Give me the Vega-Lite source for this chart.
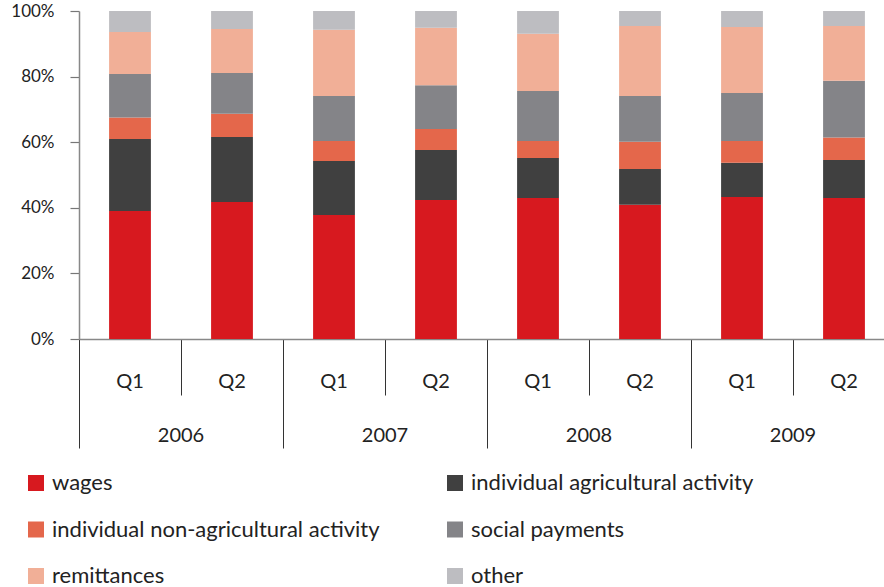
{
  "$schema": "https://vega.github.io/schema/vega-lite/v6.json",
  "width": 816,
  "height": 328,
  "autosize": {"type": "none"},
  "padding": {"left": 79, "top": 11, "right": 0, "bottom": 248},
  "config": {"font": "Lato", "view": {"stroke": null}},
  "data": {
    "values": [
      {"period": "2006 Q1", "category": "wages", "rank": 1, "value": 39.0},
      {"period": "2006 Q1", "category": "individual agricultural activity", "rank": 2, "value": 22.0},
      {"period": "2006 Q1", "category": "individual non-agricultural activity", "rank": 3, "value": 6.5},
      {"period": "2006 Q1", "category": "social payments", "rank": 4, "value": 13.3},
      {"period": "2006 Q1", "category": "remittances", "rank": 5, "value": 12.8},
      {"period": "2006 Q1", "category": "other", "rank": 6, "value": 6.4},
      {"period": "2006 Q2", "category": "wages", "rank": 1, "value": 41.8},
      {"period": "2006 Q2", "category": "individual agricultural activity", "rank": 2, "value": 19.8},
      {"period": "2006 Q2", "category": "individual non-agricultural activity", "rank": 3, "value": 7.1},
      {"period": "2006 Q2", "category": "social payments", "rank": 4, "value": 12.4},
      {"period": "2006 Q2", "category": "remittances", "rank": 5, "value": 13.4},
      {"period": "2006 Q2", "category": "other", "rank": 6, "value": 5.5},
      {"period": "2007 Q1", "category": "wages", "rank": 1, "value": 37.8},
      {"period": "2007 Q1", "category": "individual agricultural activity", "rank": 2, "value": 16.5},
      {"period": "2007 Q1", "category": "individual non-agricultural activity", "rank": 3, "value": 6.1},
      {"period": "2007 Q1", "category": "social payments", "rank": 4, "value": 13.7},
      {"period": "2007 Q1", "category": "remittances", "rank": 5, "value": 20.2},
      {"period": "2007 Q1", "category": "other", "rank": 6, "value": 5.7},
      {"period": "2007 Q2", "category": "wages", "rank": 1, "value": 42.4},
      {"period": "2007 Q2", "category": "individual agricultural activity", "rank": 2, "value": 15.2},
      {"period": "2007 Q2", "category": "individual non-agricultural activity", "rank": 3, "value": 6.4},
      {"period": "2007 Q2", "category": "social payments", "rank": 4, "value": 13.4},
      {"period": "2007 Q2", "category": "remittances", "rank": 5, "value": 17.5},
      {"period": "2007 Q2", "category": "other", "rank": 6, "value": 5.1},
      {"period": "2008 Q1", "category": "wages", "rank": 1, "value": 43.0},
      {"period": "2008 Q1", "category": "individual agricultural activity", "rank": 2, "value": 12.2},
      {"period": "2008 Q1", "category": "individual non-agricultural activity", "rank": 3, "value": 5.2},
      {"period": "2008 Q1", "category": "social payments", "rank": 4, "value": 15.2},
      {"period": "2008 Q1", "category": "remittances", "rank": 5, "value": 17.5},
      {"period": "2008 Q1", "category": "other", "rank": 6, "value": 6.9},
      {"period": "2008 Q2", "category": "wages", "rank": 1, "value": 40.9},
      {"period": "2008 Q2", "category": "individual agricultural activity", "rank": 2, "value": 10.9},
      {"period": "2008 Q2", "category": "individual non-agricultural activity", "rank": 3, "value": 8.3},
      {"period": "2008 Q2", "category": "social payments", "rank": 4, "value": 14.0},
      {"period": "2008 Q2", "category": "remittances", "rank": 5, "value": 21.3},
      {"period": "2008 Q2", "category": "other", "rank": 6, "value": 4.6},
      {"period": "2009 Q1", "category": "wages", "rank": 1, "value": 43.3},
      {"period": "2009 Q1", "category": "individual agricultural activity", "rank": 2, "value": 10.4},
      {"period": "2009 Q1", "category": "individual non-agricultural activity", "rank": 3, "value": 6.7},
      {"period": "2009 Q1", "category": "social payments", "rank": 4, "value": 14.6},
      {"period": "2009 Q1", "category": "remittances", "rank": 5, "value": 20.1},
      {"period": "2009 Q1", "category": "other", "rank": 6, "value": 4.9},
      {"period": "2009 Q2", "category": "wages", "rank": 1, "value": 43.0},
      {"period": "2009 Q2", "category": "individual agricultural activity", "rank": 2, "value": 11.6},
      {"period": "2009 Q2", "category": "individual non-agricultural activity", "rank": 3, "value": 6.8},
      {"period": "2009 Q2", "category": "social payments", "rank": 4, "value": 17.3},
      {"period": "2009 Q2", "category": "remittances", "rank": 5, "value": 16.7},
      {"period": "2009 Q2", "category": "other", "rank": 6, "value": 4.6}
    ]
  },
  "encoding": {
    "y": {
      "field": "value",
      "type": "quantitative",
      "stack": "zero",
      "scale": {"domain": [0, 100], "nice": false},
      "axis": {
        "title": null,
        "values": [0, 20, 40, 60, 80, 100],
        "labelExpr": "datum.value + '%'",
        "labelFontSize": 17,
        "labelColor": "#222222",
        "labelPadding": 16,
        "tickSize": 9,
        "tickColor": "#777777",
        "tickWidth": 1.2,
        "domainColor": "#888888",
        "domainWidth": 1.5,
        "grid": false
      }
    },
    "order": {"field": "rank", "type": "quantitative"}
  },
  "layer": [
    {
      "mark": {"type": "bar", "width": {"band": 0.41}},
      "encoding": {
        "x": {
          "field": "period",
          "type": "nominal",
          "sort": null,
          "scale": {"paddingInner": 0, "paddingOuter": 0},
          "axis": {
            "orient": "bottom",
            "title": null,
            "labels": false,
            "tickBand": "extent",
            "tickSize": {"condition": {"test": "!datum.value || datum.extra || indexof(datum.value, 'Q2') >= 0", "value": 109}, "value": 56},
            "tickColor": "#333333",
            "tickWidth": 1,
            "domainColor": "#888888",
            "domainWidth": 1.5
          }
        },
        "color": {
          "field": "category",
          "type": "nominal",
          "scale": {
            "domain": ["wages", "individual non-agricultural activity", "remittances", "individual agricultural activity", "social payments", "other"],
            "range": ["#D7191F", "#E4674B", "#F1AF97", "#404040", "#848488", "#BDBDC1"]
          },
          "legend": {
            "title": null,
            "orient": "none",
            "legendX": -54,
            "legendY": 461,
            "padding": 0,
            "columns": 2,
            "symbolType": "square",
            "symbolSize": 256,
            "symbolStrokeWidth": 0,
            "labelFontSize": 22,
            "labelColor": "#222222",
            "labelLimit": 500,
            "labelOffset": 5,
            "rowPadding": 24.5,
            "columnPadding": 64
          }
        }
      }
    },
    {
      "mark": {"type": "bar", "width": {"band": 0.41}, "opacity": 0},
      "encoding": {
        "x": {
          "field": "period",
          "type": "nominal",
          "sort": null,
          "axis": {
            "orient": "bottom",
            "title": null,
            "labelExpr": "slice(datum.value, 5)",
            "labelAngle": 0,
            "labelFontSize": 20,
            "labelColor": "#222222",
            "labelBaseline": "middle",
            "labelPadding": 42,
            "ticks": false,
            "tickSize": 0,
            "domain": false
          }
        }
      }
    },
    {
      "mark": {"type": "bar", "width": {"band": 0.41}, "opacity": 0},
      "encoding": {
        "x": {
          "field": "period",
          "type": "nominal",
          "sort": null,
          "axis": {
            "orient": "bottom",
            "title": null,
            "labelExpr": "indexof(datum.value, 'Q1') >= 0 ? slice(datum.value, 0, 4) : ''",
            "labelAngle": 0,
            "labelOffset": 51,
            "labelFontSize": 20,
            "labelColor": "#222222",
            "labelBaseline": "middle",
            "labelPadding": 96,
            "ticks": false,
            "tickSize": 0,
            "domain": false
          }
        }
      }
    }
  ],
  "resolve": {"axis": {"x": "independent"}}
}
